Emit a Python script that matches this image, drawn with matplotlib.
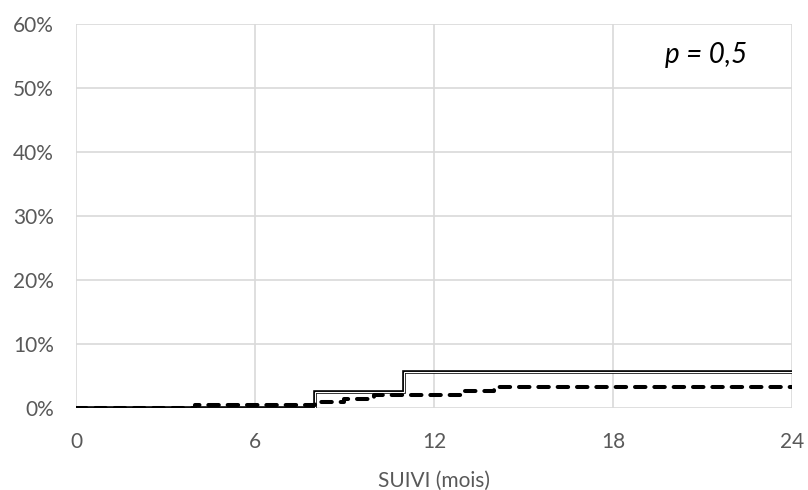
import matplotlib
matplotlib.use("Agg")
import matplotlib.pyplot as plt

# follow-up (months) vs cumulative incidence (%)
solid_x = [0, 8, 11, 24]
solid_y = [0, 2.5, 5.6, 5.6]

dashed_x = [0, 4, 8, 9, 10, 13, 14, 24]
dashed_y = [0, 0.5, 1.0, 1.5, 2.0, 2.7, 3.3, 3.3]

x_ticks = [0, 6, 12, 18, 24]
y_ticks = [0, 10, 20, 30, 40, 50, 60]

plt.rcParams['font.family'] = ['Lato', 'DejaVu Sans']

fig = plt.figure(figsize=(8.08, 4.9), dpi=100)
ax = fig.add_axes([0.094, 0.167, 0.886, 0.784])

# double line (black outline with white core)
ax.step(solid_x, solid_y, where='post', color='black', lw=2.6,
        solid_joinstyle='miter', zorder=3)
ax.step(solid_x, solid_y, where='post', color='white', lw=0.8,
        solid_joinstyle='miter', zorder=4)
# thick dashed line
ax.step(dashed_x, dashed_y, where='post', color='black', lw=2.9,
        dashes=(2.6, 2.2), dash_capstyle='round', zorder=5)

ax.set_xlim(0, 24)
ax.set_ylim(0, 60)
ax.set_xticks(x_ticks)
ax.set_yticks(y_ticks)
ax.set_yticklabels([f"{v}%" for v in y_ticks])
ax.grid(True, color='#d9d9d9', lw=1.2)
ax.set_axisbelow(True)
for s in ax.spines.values():
    s.set_visible(False)
ax.tick_params(length=0, labelsize=15, colors='#595959')
ax.tick_params(axis='x', pad=17)
ax.tick_params(axis='y', pad=16)
ax.set_xlabel('SUIVI (mois)', fontsize=15, color='#595959', labelpad=14)

ax.text(0.88, 0.92, 'p = 0,5', transform=ax.transAxes, fontsize=20,
        style='italic', ha='center', va='center', color='black')

fig.savefig('out.png', dpi=100)
